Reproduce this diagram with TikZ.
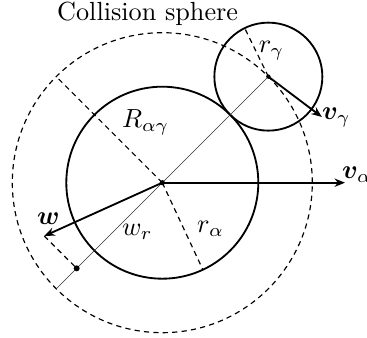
\documentclass[tikz,border=0pt]{standalone}
\usepackage{bm}
\usetikzlibrary{arrows.meta,calc}
\begin{document}
\begin{tikzpicture}[x=0.3817pt,y=0.3817pt,
  body/.style={line width=0.7pt},
  sphere/.style={line width=0.45pt,dash pattern=on 2pt off 1.6pt},
  guide/.style={line width=0.45pt,dash pattern=on 2pt off 1.6pt},
  axisline/.style={line width=0.25pt,black!80},
  vec/.style={line width=0.7pt,-{Stealth[length=4pt,width=3.2pt]}},
  lbl/.style={anchor=base west,inner sep=0pt},
  dotmark/.style={fill=black,draw=none}]
\useasboundingbox (-162.3,-155.3) rectangle (204.7,182.7);
% points
\coordinate (O) at (0,0);
\coordinate (G) at (45:150);
\coordinate (Rend) at (135:150);
\coordinate (Aend) at (225:150);
\coordinate (ra) at (-65:96);
\coordinate (rg) at ($(G)+(116:54)$);
\coordinate (vg) at ($(G)+(-37:67)$);
\coordinate (va) at (182.7,0);
\coordinate (W) at (-118,-53.3);
\coordinate (P) at (225:121.1);
% circles
\draw[sphere] (O) circle (150);
\draw[body] (O) circle (96);
\draw[body] (G) circle (54);
% guide lines
\draw[axisline] (G) -- (Aend);
\draw[guide] (O) -- (Rend);
\draw[guide] (O) -- (ra);
\draw[guide] (G) -- (rg);
\draw[guide] (W) -- (P);
% vectors
\draw[vec] (O) -- (va);
\draw[vec] (G) -- (vg);
\draw[vec] (O) -- (W);
% dots
\fill[dotmark] (O) circle (2.6);
\fill[dotmark] (G) circle (2.2);
\fill[dotmark] (P) circle (3);
% labels
\node[anchor=base west,inner sep=0pt] (title) at (-105.6,162.0) {Collision sphere};
\node[lbl] (lR) at (-40.6,55.4) {$R_{\alpha\gamma}$};
\node[lbl] (lrg) at (96.0,130.0) {$r_\gamma$};
\node[lbl] (lvg) at (159.4,62.7) {$\bm{v}_\gamma$};
\node[lbl] (lva) at (179.4,4.4) {$\bm{v}_\alpha$};
\node[lbl] (lw) at (-125.6,-42.3) {$\bm{w}$};
\node[lbl] (lwr) at (-40.6,-53.3) {$w_r$};
\node[lbl] (lra) at (34.4,-49.8) {$r_\alpha$};
\end{tikzpicture}
\end{document}
